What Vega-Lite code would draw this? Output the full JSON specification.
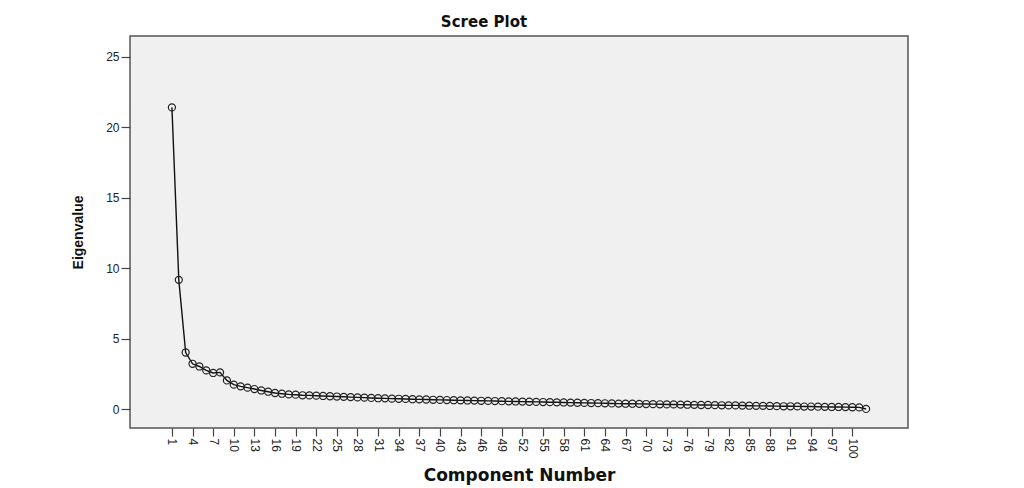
{
  "$schema": "https://vega.github.io/schema/vega-lite/v6.json",
  "autosize": {"type": "none"},
  "width": 778,
  "height": 392,
  "padding": {"left": 130, "top": 36, "right": 116, "bottom": 60},
  "background": "white",
  "title": {
    "text": "Scree Plot",
    "font": "DejaVu Sans",
    "fontSize": 15,
    "fontWeight": "bold",
    "color": "#111",
    "anchor": "middle",
    "dx": -35,
    "offset": 6
  },
  "config": {
    "view": {"fill": "#f0f0f0", "stroke": "#555", "strokeWidth": 1.5},
    "axis": {
      "domain": false,
      "grid": false,
      "tickColor": "#444",
      "tickWidth": 1.2,
      "labelFont": "Liberation Sans",
      "labelFontSize": 12,
      "labelColor": "#222",
      "titleColor": "#111"
    }
  },
  "data": {
    "values": [
      {"component": 1, "eigenvalue": 21.4},
      {"component": 2, "eigenvalue": 9.18},
      {"component": 3, "eigenvalue": 4.03},
      {"component": 4, "eigenvalue": 3.23},
      {"component": 5, "eigenvalue": 3.04},
      {"component": 6, "eigenvalue": 2.76},
      {"component": 7, "eigenvalue": 2.58},
      {"component": 8, "eigenvalue": 2.62},
      {"component": 9, "eigenvalue": 2.05},
      {"component": 10, "eigenvalue": 1.75},
      {"component": 11, "eigenvalue": 1.63},
      {"component": 12, "eigenvalue": 1.54},
      {"component": 13, "eigenvalue": 1.44},
      {"component": 14, "eigenvalue": 1.34},
      {"component": 15, "eigenvalue": 1.25},
      {"component": 16, "eigenvalue": 1.16},
      {"component": 17, "eigenvalue": 1.11},
      {"component": 18, "eigenvalue": 1.06},
      {"component": 19, "eigenvalue": 1.04},
      {"component": 20, "eigenvalue": 1.0},
      {"component": 21, "eigenvalue": 0.99},
      {"component": 22, "eigenvalue": 0.97},
      {"component": 23, "eigenvalue": 0.95},
      {"component": 24, "eigenvalue": 0.93},
      {"component": 25, "eigenvalue": 0.91},
      {"component": 26, "eigenvalue": 0.89},
      {"component": 27, "eigenvalue": 0.87},
      {"component": 28, "eigenvalue": 0.85},
      {"component": 29, "eigenvalue": 0.83},
      {"component": 30, "eigenvalue": 0.81},
      {"component": 31, "eigenvalue": 0.79},
      {"component": 32, "eigenvalue": 0.78},
      {"component": 33, "eigenvalue": 0.76},
      {"component": 34, "eigenvalue": 0.75},
      {"component": 35, "eigenvalue": 0.74},
      {"component": 36, "eigenvalue": 0.72},
      {"component": 37, "eigenvalue": 0.71},
      {"component": 38, "eigenvalue": 0.7},
      {"component": 39, "eigenvalue": 0.68},
      {"component": 40, "eigenvalue": 0.67},
      {"component": 41, "eigenvalue": 0.66},
      {"component": 42, "eigenvalue": 0.65},
      {"component": 43, "eigenvalue": 0.64},
      {"component": 44, "eigenvalue": 0.63},
      {"component": 45, "eigenvalue": 0.62},
      {"component": 46, "eigenvalue": 0.61},
      {"component": 47, "eigenvalue": 0.6},
      {"component": 48, "eigenvalue": 0.59},
      {"component": 49, "eigenvalue": 0.58},
      {"component": 50, "eigenvalue": 0.57},
      {"component": 51, "eigenvalue": 0.56},
      {"component": 52, "eigenvalue": 0.55},
      {"component": 53, "eigenvalue": 0.54},
      {"component": 54, "eigenvalue": 0.53},
      {"component": 55, "eigenvalue": 0.52},
      {"component": 56, "eigenvalue": 0.51},
      {"component": 57, "eigenvalue": 0.5},
      {"component": 58, "eigenvalue": 0.49},
      {"component": 59, "eigenvalue": 0.48},
      {"component": 60, "eigenvalue": 0.47},
      {"component": 61, "eigenvalue": 0.46},
      {"component": 62, "eigenvalue": 0.45},
      {"component": 63, "eigenvalue": 0.44},
      {"component": 64, "eigenvalue": 0.43},
      {"component": 65, "eigenvalue": 0.42},
      {"component": 66, "eigenvalue": 0.41},
      {"component": 67, "eigenvalue": 0.4},
      {"component": 68, "eigenvalue": 0.4},
      {"component": 69, "eigenvalue": 0.39},
      {"component": 70, "eigenvalue": 0.38},
      {"component": 71, "eigenvalue": 0.37},
      {"component": 72, "eigenvalue": 0.36},
      {"component": 73, "eigenvalue": 0.35},
      {"component": 74, "eigenvalue": 0.35},
      {"component": 75, "eigenvalue": 0.34},
      {"component": 76, "eigenvalue": 0.33},
      {"component": 77, "eigenvalue": 0.32},
      {"component": 78, "eigenvalue": 0.31},
      {"component": 79, "eigenvalue": 0.31},
      {"component": 80, "eigenvalue": 0.3},
      {"component": 81, "eigenvalue": 0.29},
      {"component": 82, "eigenvalue": 0.28},
      {"component": 83, "eigenvalue": 0.28},
      {"component": 84, "eigenvalue": 0.27},
      {"component": 85, "eigenvalue": 0.26},
      {"component": 86, "eigenvalue": 0.25},
      {"component": 87, "eigenvalue": 0.25},
      {"component": 88, "eigenvalue": 0.24},
      {"component": 89, "eigenvalue": 0.23},
      {"component": 90, "eigenvalue": 0.22},
      {"component": 91, "eigenvalue": 0.22},
      {"component": 92, "eigenvalue": 0.21},
      {"component": 93, "eigenvalue": 0.2},
      {"component": 94, "eigenvalue": 0.2},
      {"component": 95, "eigenvalue": 0.19},
      {"component": 96, "eigenvalue": 0.18},
      {"component": 97, "eigenvalue": 0.17},
      {"component": 98, "eigenvalue": 0.17},
      {"component": 99, "eigenvalue": 0.16},
      {"component": 100, "eigenvalue": 0.15},
      {"component": 101, "eigenvalue": 0.14},
      {"component": 102, "eigenvalue": 0.03}
    ]
  },
  "encoding": {
    "x": {
      "field": "component",
      "type": "quantitative",
      "scale": {"domain": [-5.1, 108.1], "nice": false, "zero": false},
      "axis": {
        "title": "Component Number",
        "titleFont": "DejaVu Sans",
        "titleFontSize": 17,
        "titleFontWeight": "bold",
        "titlePadding": 9,
        "values": [1, 4, 7, 10, 13, 16, 19, 22, 25, 28, 31, 34, 37, 40, 43, 46, 49, 52, 55, 58, 61, 64, 67, 70, 73, 76, 79, 82, 85, 88, 91, 94, 97, 100],
        "labelAngle": 90,
        "labelAlign": "left",
        "labelBaseline": "middle",
        "labelPadding": 2,
        "tickSize": 8,
        "labelOverlap": false,
        "labelFlush": false
      }
    },
    "y": {
      "field": "eigenvalue",
      "type": "quantitative",
      "scale": {"domain": [-1.32, 26.46], "nice": false, "zero": false},
      "axis": {
        "title": "Eigenvalue",
        "titleFont": "Liberation Sans",
        "titleFontSize": 14,
        "titleFontWeight": "bold",
        "titleX": -52,
        "titleY": 196,
        "titleAlign": "center",
        "titleBaseline": "middle",
        "values": [0, 5, 10, 15, 20, 25],
        "tickSize": 9,
        "labelPadding": 2
      }
    }
  },
  "layer": [
    {"mark": {"type": "line", "color": "#111", "strokeWidth": 1.4}},
    {"mark": {"type": "point", "shape": "circle", "filled": false, "color": "#222", "strokeWidth": 1.2, "size": 50, "opacity": 1}}
  ]
}
